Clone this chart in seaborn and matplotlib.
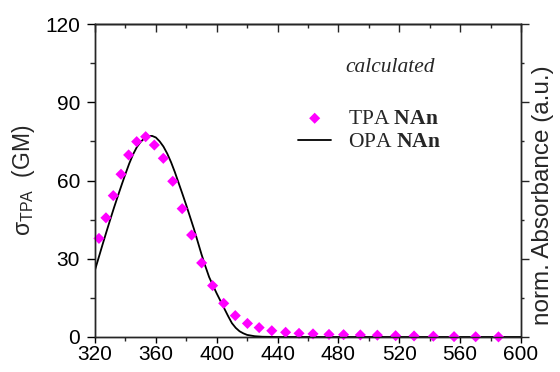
import numpy as np
import pandas as pd
import matplotlib
matplotlib.use("Agg")
import matplotlib.pyplot as plt
import seaborn as sns
from matplotlib.ticker import MultipleLocator

# ---- data ----
tpa_wavelength = [322.6, 327.2, 332.0, 337.1, 342.1, 347.4, 353.3, 359.0, 364.9, 371.1,
                  377.3, 383.5, 390.1, 397.3, 404.6, 412.2, 420.2, 427.9, 436.2, 445.3,
                  454.1, 463.3, 473.8, 483.4, 494.4, 505.6, 517.6, 529.7, 542.4, 556.0,
                  570.2, 585.2]
tpa_sigma = [37.8, 45.7, 54.2, 62.4, 69.8, 74.9, 76.8, 73.6, 68.5, 59.7,
             49.2, 39.1, 28.4, 19.7, 12.9, 8.2, 5.2, 3.6, 2.4, 1.8,
             1.4, 1.2, 1.0, 0.9, 0.8, 0.7, 0.5, 0.4, 0.3, 0.15,
             0.1, 0.05]

opa_wavelength = [320, 322.5, 325, 327.5, 330, 332.5, 335, 337.5, 340, 342.5, 345, 347.5,
                  350, 352.5, 355, 357.5, 360, 362.5, 365, 367.5, 370, 372.5, 375, 377.5,
                  380, 382.5, 385, 387.5, 390, 392.5, 395, 397.5, 400, 402.5, 405, 407.5,
                  410, 412.5, 415, 417.5, 420, 425, 430, 440, 450, 600]
opa_absorb = [25.7, 30.6, 35.5, 40.3, 45.0, 49.6, 54.0, 58.3, 62.5, 66.5, 70.0, 72.8,
              74.8, 76.2, 77.0, 77.1, 76.5, 75.0, 73.0, 70.3, 67.0, 63.2, 59.0, 54.8,
              50.5, 46.0, 41.5, 36.6, 31.7, 27.2, 23.0, 19.8, 16.7, 13.8, 10.9, 8.0,
              5.3, 3.5, 2.2, 1.4, 0.8, 0.3, 0.1, 0.0, 0.0, 0.0]

x_ticks = [320, 360, 400, 440, 480, 520, 560, 600]
y_ticks = [0, 30, 60, 90, 120]

tpa_df = pd.DataFrame({"wl": tpa_wavelength, "val": tpa_sigma})
opa_df = pd.DataFrame({"wl": opa_wavelength, "val": opa_absorb})

sns.set_style("ticks")
plt.rcParams["font.family"] = ["Liberation Sans", "DejaVu Sans"]
plt.rcParams["mathtext.fontset"] = "custom"
plt.rcParams["mathtext.sf"] = "Liberation Sans"
plt.rcParams["mathtext.rm"] = "Liberation Serif"
plt.rcParams["mathtext.bf"] = "Liberation Serif:bold"
plt.rcParams["axes.linewidth"] = 1.0

fig = plt.figure(figsize=(5.6, 3.72), dpi=100)
ax = fig.add_axes([95 / 560, 1 - 337 / 372, 426 / 560, 313 / 372])

sns.lineplot(data=opa_df, x="wl", y="val", ax=ax, color="black", linewidth=1.3,
             label=r"OPA $\mathbf{NAn}$", zorder=3)
sns.scatterplot(data=tpa_df, x="wl", y="val", ax=ax, color="#ff00ff", marker="D",
                s=32, edgecolor="none", label=r"TPA $\mathbf{NAn}$", zorder=4, clip_on=False)

ax.set_xlim(320, 600)
ax.set_ylim(0, 120)
ax.set_xticks(x_ticks)
ax.set_yticks(y_ticks)
ax.xaxis.set_minor_locator(MultipleLocator(20))
ax.yaxis.set_minor_locator(MultipleLocator(15))
ax.tick_params(axis="x", which="major", direction="out", length=4.5, width=1.0,
               labelsize=15, pad=1.5, colors="black")
ax.tick_params(axis="x", which="minor", direction="out", length=2.8, width=1.0)
ax.tick_params(axis="y", which="major", direction="out", length=5.8, width=1.0,
               labelsize=15, pad=5, colors="black")
ax.tick_params(axis="y", which="minor", direction="out", length=3.6, width=1.0)
for s in ax.spines.values():
    s.set_visible(True)
    s.set_color("black")
    s.set_linewidth(1.0)

ax.set_xlabel("")
ax.set_ylabel("σ$_{\\mathsf{TPA}}$  (GM)", fontsize=16.5)
ax.yaxis.set_label_coords((37 - 95) / 426, 0.5)

# top axis: ticks pointing in, no labels
top = ax.secondary_xaxis("top")
top.set_xticks(x_ticks)
top.xaxis.set_minor_locator(MultipleLocator(20))
top.tick_params(which="major", direction="in", length=5.8, width=1.0, labeltop=False)
top.tick_params(which="minor", direction="in", length=2.9, width=1.0)

# right axis
ax2 = ax.twinx()
ax2.set_ylim(0, 120)
ax2.set_yticks(y_ticks)
ax2.yaxis.set_minor_locator(MultipleLocator(15))
ax2.tick_params(which="major", direction="out", length=5.8, width=1.0, labelright=False)
ax2.tick_params(which="minor", direction="out", length=2.2, width=1.0)
ax2.set_ylabel("norm. Absorbance (a.u.)", fontsize=17.5)
ax2.yaxis.set_label_coords((532 - 95) / 426, 0.454)

# legend
handles, labels = ax.get_legend_handles_labels()
order = [labels.index(r"TPA $\mathbf{NAn}$"), labels.index(r"OPA $\mathbf{NAn}$")]
leg = ax.legend([handles[i] for i in order], [labels[i] for i in order],
                loc="center left", bbox_to_anchor=(298 / 560, 1 - 130.5 / 372),
                bbox_transform=fig.transFigure, frameon=False, borderpad=0,
                borderaxespad=0, handlelength=1.55, handletextpad=0.75,
                labelspacing=0.15, prop={"family": "Liberation Serif", "size": 15.5})

fig.text(389.7 / 560, 1 - 67 / 372, "calculated", fontsize=15.5, style="italic",
         family="Liberation Serif", ha="center", va="center")

fig.savefig("out.png", dpi=100)
